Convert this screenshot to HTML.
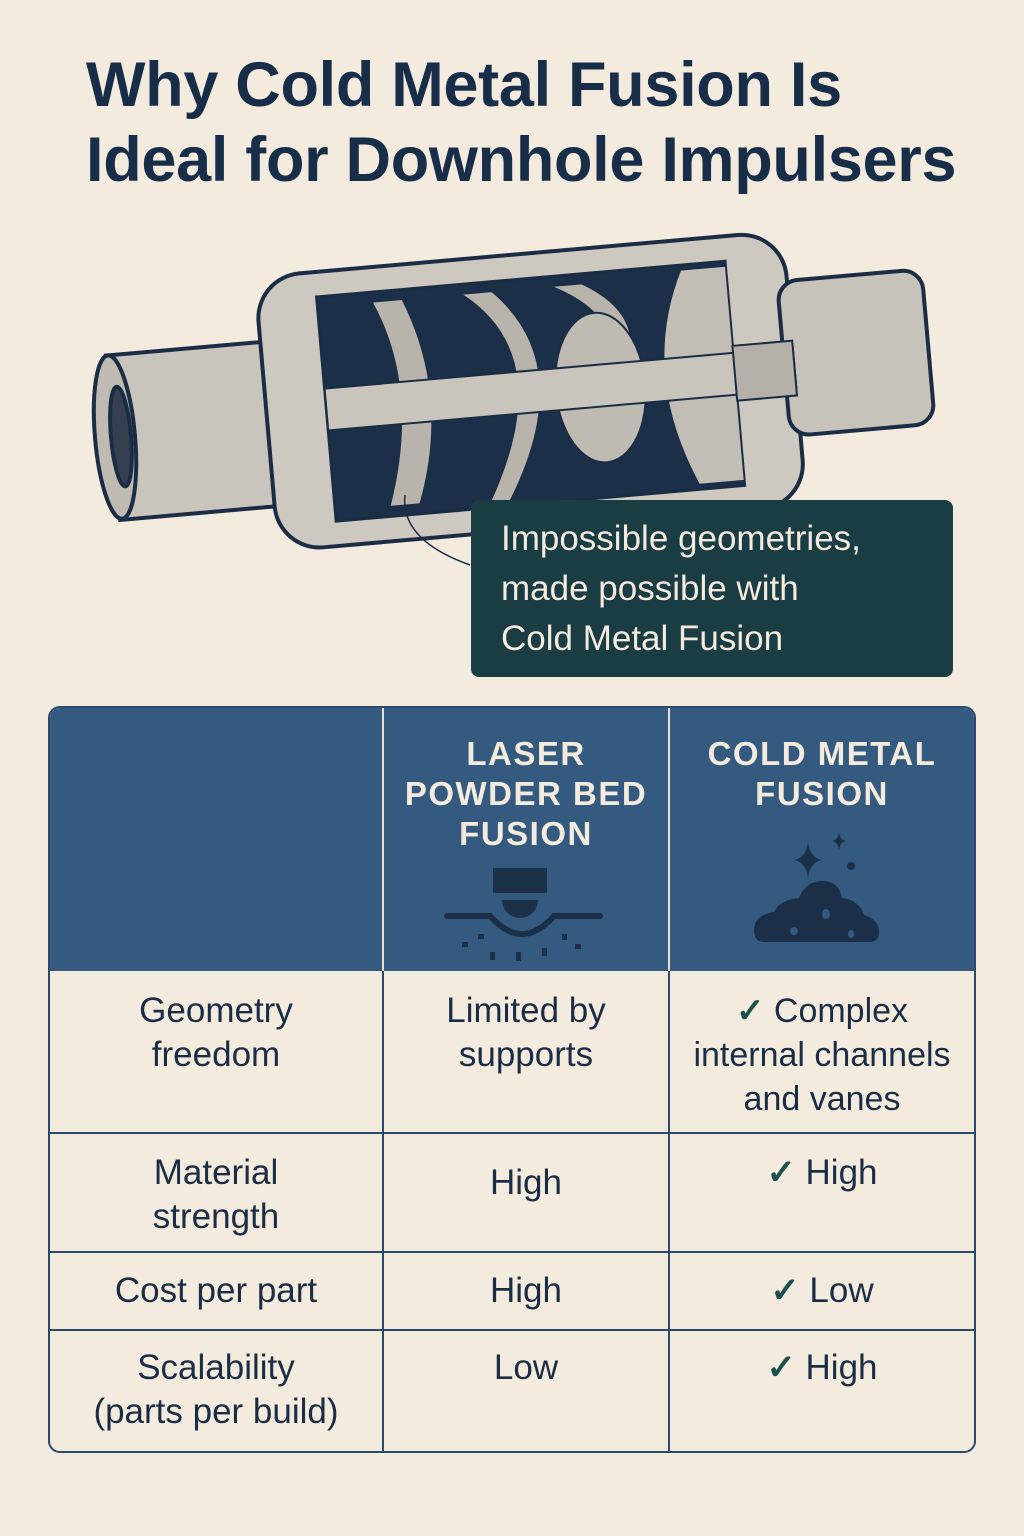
<!DOCTYPE html>
<html><head><meta charset="utf-8"><style>
body{margin:0;width:1024px;height:1536px;background:#f4ebdf;position:relative;overflow:hidden;font-family:"Liberation Sans",sans-serif;color:#1b2d45}
.t{position:absolute;left:86px;top:48px;font-size:63px;font-weight:bold;line-height:75px;color:#172d48;letter-spacing:-0.3px;white-space:nowrap}
.call{position:absolute;left:471px;top:500px;width:482px;height:177px;background:#1a3c43;border-radius:8px;color:#f4ebdf;font-size:35px;line-height:50px;box-sizing:border-box;padding:14px 0 0 30px}
.tb{position:absolute;left:48px;top:706px;width:924px;height:743px;border:2px solid #2c4a6e;border-radius:12px;overflow:hidden}
.hd{position:absolute;left:0;top:0;width:924px;height:263px;background:#355a80}
.v{position:absolute;width:2px;background:#2c4a6e;top:0;height:743px}
.hv{position:absolute;width:2px;background:#e8e2d6;top:0;height:263px}
.h{position:absolute;left:0;width:924px;height:2px;background:#2c4a6e}
.c{position:absolute;text-align:center;font-size:35px;line-height:44px;color:#1b2d45}
.hc{position:absolute;text-align:center;color:#f4ebdf;font-weight:bold;font-size:33px;letter-spacing:1.5px;line-height:40px}
.ck{color:#1e5050;font-weight:bold}
</style></head><body>
<div class="t">Why Cold Metal Fusion Is<br>Ideal for Downhole Impulsers</div>
<svg width="1024" height="700" style="position:absolute;left:0;top:0">
<g transform="rotate(-5 515 385)" stroke="#1b2d45" stroke-width="4">
<rect x="110" y="320" width="230" height="165" fill="#c9c5bd"/>
<ellipse cx="112" cy="402" rx="20" ry="82" fill="#bfbab2"/>
<ellipse cx="118" cy="402" rx="10" ry="50" fill="#34404f"/>
<rect x="265" y="255" width="530" height="275" rx="45" fill="#cdc9c1"/>
<rect x="785" y="305" width="145" height="155" rx="20" fill="#c7c3bb"/>
<rect x="325" y="280" width="410" height="225" fill="#1b2f48" stroke-width="3"/>
<path d="M380 290 Q420 380 380 495 L410 495 Q450 390 410 290Z" fill="#b8b4ac" stroke-width="1"/>
<path d="M470 290 Q560 360 480 500 L500 500 Q580 370 500 290Z" fill="#b8b4ac" stroke-width="1"/>
<path d="M560 290 Q640 330 600 395 L620 395 Q660 330 590 290Z" fill="#b8b4ac" stroke-width="1"/>
<path d="M690 285 Q640 385 690 500 L735 500 L735 285Z" fill="#c2beb6" stroke-width="1"/>
<ellipse cx="600" cy="395" rx="45" ry="75" fill="#bfbbb3" stroke-width="2"/>
<rect x="325" y="372" width="470" height="42" fill="#c9c5bd" stroke-width="2"/>
<rect x="735" y="365" width="60" height="55" fill="#b5b1a9" stroke-width="2"/>
</g>
<path d="M405 495 Q400 540 470 565" fill="none" stroke="#1b2d45" stroke-width="1.5"/>
</svg>
<div class="call">Impossible geometries,<br>made possible with<br>Cold Metal Fusion</div>
<div class="tb">
<div class="hd"></div>
<div class="hv" style="left:332px"></div><div class="hv" style="left:618px"></div>
<div class="v" style="left:332px;top:263px;height:480px"></div><div class="v" style="left:618px;top:263px;height:480px"></div>
<div class="h" style="top:424px"></div><div class="h" style="top:543px"></div><div class="h" style="top:621px"></div>
<div class="hc" style="left:334px;width:284px;top:26px">LASER<br>POWDER BED<br>FUSION</div>
<svg width="170" height="100" style="position:absolute;left:392px;top:156px"><rect x="51" y="4" width="54" height="25" fill="#1b2f48"/><path d="M60 36 h36 a18 18 0 0 1 -36 0z" fill="#1b2f48"/><path d="M5 52 H48 Q80 88 112 52 H158" fill="none" stroke="#1b2f48" stroke-width="6" stroke-linecap="round"/><g fill="#1b2f48"><rect x="20" y="78" width="6" height="5"/><rect x="36" y="70" width="6" height="5"/><rect x="48" y="88" width="5" height="8"/><rect x="74" y="88" width="5" height="9"/><rect x="100" y="84" width="5" height="8"/><rect x="120" y="70" width="5" height="6"/><rect x="133" y="80" width="6" height="5"/></g></svg>
<div class="hc" style="left:620px;width:304px;top:26px">COLD METAL<br>FUSION</div>
<svg width="170" height="120" style="position:absolute;left:694px;top:122px"><g fill="#1b2f48"><path d="M64 12 Q66 28 78 30 Q66 32 64 48 Q62 32 50 30 Q62 28 64 12z"/><path d="M95 2 Q96 10 102 11 Q96 12 95 20 Q94 12 88 11 Q94 10 95 2z"/><circle cx="107" cy="36" r="4"/><path d="M20 112 Q10 112 10 100 Q10 85 30 82 Q35 70 55 68 Q62 50 80 51 Q95 52 98 68 Q115 70 120 85 Q135 90 135 102 Q135 112 125 112Z"/></g><g fill="#355a80"><ellipse cx="82" cy="84" rx="4" ry="5"/><ellipse cx="50" cy="101" rx="4" ry="4"/><ellipse cx="107" cy="104" rx="3" ry="4"/></g></svg>
<div class="c" style="left:0;width:332px;top:281px">Geometry<br>freedom</div>
<div class="c" style="left:334px;width:284px;top:281px">Limited by<br>supports</div>
<div class="c" style="left:620px;width:304px;top:281px;font-size:34px"><span class="ck">✓</span> Complex<br>internal channels<br>and vanes</div>
<div class="c" style="left:0;width:332px;top:443px">Material<br>strength</div>
<div class="c" style="left:334px;width:284px;top:453px">High</div>
<div class="c" style="left:620px;width:304px;top:443px"><span class="ck">✓</span> High</div>
<div class="c" style="left:0;width:332px;top:561px">Cost per part</div>
<div class="c" style="left:334px;width:284px;top:561px">High</div>
<div class="c" style="left:620px;width:304px;top:561px"><span class="ck">✓</span> Low</div>
<div class="c" style="left:0;width:332px;top:638px">Scalability<br>(parts per build)</div>
<div class="c" style="left:334px;width:284px;top:638px">Low</div>
<div class="c" style="left:620px;width:304px;top:638px"><span class="ck">✓</span> High</div>
</div>
</body></html>
